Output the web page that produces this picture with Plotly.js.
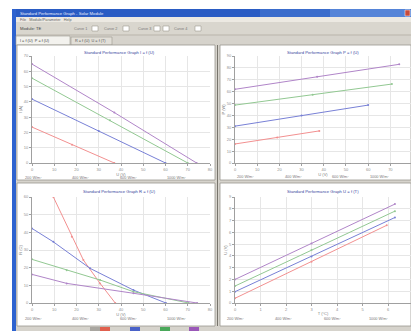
<!DOCTYPE html>
<html><head><meta charset="utf-8">
<script src="https://cdn.plot.ly/plotly-3.0.1.min.js"></script>
<style>html,body{margin:0;padding:0;background:#fff;}#c{width:411px;height:331px;}</style>
</head><body><div id="c"></div>
<script>
// ---- data ----
const seriesNames = ["200 W/m²", "400 W/m²", "600 W/m²", "1000 W/m²"];
const seriesColors = ["#f29090", "#7880d6", "#92c892", "#b085c8"];

// top-left: I = f(U)
const tlRedX = [0, 18, 37], tlRedY = [23.5, 12, 0];
const tlBlueX = [0, 30, 60], tlBlueY = [41.8, 21, 0];
const tlGreenX = [0, 35, 70], tlGreenY = [55.5, 28, 0];
const tlPurpleX = [0, 37, 74], tlPurpleY = [64.7, 33, 0];

// top-right: P = f(U)
const trRedX = [0, 19, 38], trRedY = [16, 21.5, 27];
const trBlueX = [0, 30, 60], trBlueY = [31, 40, 48.7];
const trGreenX = [0, 35, 70.7], trGreenY = [48.7, 57.5, 66.4];
const trPurpleX = [0, 37, 74], trPurpleY = [62, 72.5, 83];

// bottom-left: R = f(U)
const blRedX = [9.6, 17.9, 23.1, 30.6, 37.4], blRedY = [60, 37.5, 24.3, 11.1, 0];
const blBlueX = [0, 9.6, 26.1, 45.6, 60.2], blBlueY = [42.2, 34.6, 19.6, 7.3, 0];
const blGreenX = [0, 15.6, 30.6, 45.6, 70.4], blGreenY = [24.7, 18.6, 13, 6.4, 0];
const blPurpleX = [0, 15.6, 45.6, 74.2], blPurpleY = [16.2, 11.1, 5.5, 0];

// bottom-right: U = f(T)
const brRedX = [0, 3, 5.95], brRedY = [0.4, 3.5, 6.6];
const brBlueX = [0, 3, 6.27], brBlueY = [0.96, 3.95, 7.26];
const brGreenX = [0, 3, 6.27], brGreenY = [1.44, 4.5, 7.8];
const brPurpleX = [0, 3, 6.27], brPurpleY = [2.0, 5.05, 8.4];

const plotTitles = ["Standard Performance Graph I = f (U)", "Standard Performance Graph P = f (U)",
                    "Standard Performance Graph R = f (U)", "Standard Performance Graph U = f (T)"];
const xTitles = ["U (V)", "U (V)", "U (V)", "T (°C)"];
const yTitles = ["I (A)", "P (W)", "R (Ω)", "U (V)"];

// ---- layout helpers (pixel -> paper) ----
const W = 411, H = 331;
const PX = p => p / W, PY = p => 1 - p / H;
const shapes = [];
function rect(x0, y0, x1, y1, fill, line, lw) {
  shapes.push({type: 'rect', xref: 'paper', yref: 'paper', layer: 'below',
    x0: PX(x0), x1: PX(x1), y0: PY(y1), y1: PY(y0), fillcolor: fill,
    line: {color: line || fill, width: lw === undefined ? 0 : lw}});
}
function hline(x0, x1, y, c) {
  shapes.push({type: 'line', xref: 'paper', yref: 'paper', layer: 'below',
    x0: PX(x0), x1: PX(x1), y0: PY(y), y1: PY(y), line: {color: c, width: 1}});
}
function vline(x, y0, y1, c) {
  shapes.push({type: 'line', xref: 'paper', yref: 'paper', layer: 'below',
    x0: PX(x), x1: PX(x), y0: PY(y0), y1: PY(y1), line: {color: c, width: 1}});
}
const ann = [];
function txt(x, y, t, size, color, anchor, extra) {
  ann.push(Object.assign({xref: 'paper', yref: 'paper', x: PX(x), y: PY(y), text: t, showarrow: false,
    xanchor: anchor || 'left', yanchor: 'middle', font: {size: size, color: color, family: 'Liberation Sans'}}, extra || {}));
}

// window chrome
rect(12, 9, 411, 331, '#d6d3cc');
rect(12, 9, 411, 17, '#2a5cc4');
rect(260, 9, 330, 17, '#3a6ccc');
rect(330, 9, 411, 17, '#5584d8');
rect(12, 9, 16, 331, '#2d62cf');
rect(405, 10, 410, 16, '#c84a3a', '#ffffff', 0.5);
rect(16, 17, 411, 22, '#ece9e2');
rect(16, 22, 411, 35, '#d9d6ce');
hline(16, 411, 35, '#b9b5ab');
// tabs
rect(16, 36, 70, 45, '#f3f2ee', '#9c998f', 0.6);
rect(71, 37, 112, 45, '#e2dfd8', '#9c998f', 0.6);
// panels
rect(17, 45, 215, 180, '#ffffff', '#9a978f', 0.8);
rect(220, 45, 411, 180, '#ffffff', '#9a978f', 0.8);
rect(17, 183, 215, 326, '#ffffff', '#9a978f', 0.8);
rect(220, 183, 411, 326, '#ffffff', '#9a978f', 0.8);
vline(217.5, 45, 326, '#77746c');
// checkboxes
[95, 126, 157, 166, 198].forEach(x => rect(x - 3, 26, x + 3, 31, '#ffffff', '#8c897f', 0.5));
// bottom status bar buttons
rect(90, 327, 100, 331, '#a9a6a0');
rect(100, 327, 110, 331, '#e0604e');
rect(130, 327, 140, 331, '#4a62c8');
rect(160, 327, 170, 331, '#4aa85a');
rect(189, 327, 199, 331, '#9a58b8');

// chrome text
txt(18, 13, 'Standard Performance Graph - Solar Module', 4.2, '#e8eeff');
txt(18, 19.5, 'File   Module/Parameter   Help', 3.8, '#666666');
txt(18, 28.5, 'Module: TE', 4.2, '#444444');
txt(72, 28.5, 'Curve 1', 3.8, '#777777');
txt(102, 28.5, 'Curve 2', 3.8, '#777777');
txt(136, 28.5, 'Curve 3', 3.8, '#777777');
txt(172, 28.5, 'Curve 4', 3.8, '#777777');
txt(18, 40.5, 'I = f (U)  P = f (U)', 3.8, '#444444');
txt(73, 41, 'R = f (U)  U = f (T)', 3.8, '#555555');

// plot titles and irradiance labels
const panels = [
  {cx: 120, ty: 52, ly: 178, lx: [23, 70, 118, 165]},
  {cx: 323, ty: 52, ly: 177, lx: [235, 283, 330, 368]},
  {cx: 120, ty: 191, ly: 319, lx: [23, 70, 118, 165]},
  {cx: 323, ty: 191, ly: 319, lx: [225, 273, 322, 367]}
];
panels.forEach((p, i) => {
  txt(p.cx, p.ty, plotTitles[i], 4.2, '#3a48a0', 'center');
  p.lx.forEach((x, k) => txt(x, p.ly, seriesNames[k], 3.8, '#777777'));
});

// ---- traces ----
const traces = [];
function addSet(sets, xa, ya) {
  sets.forEach((s, k) => traces.push({x: s[0], y: s[1], xaxis: xa, yaxis: ya, type: 'scatter',
    mode: 'lines+markers', line: {color: seriesColors[k], width: 1},
    marker: {size: 2, color: seriesColors[k]}, hoverinfo: 'skip', showlegend: false}));
}
addSet([[tlRedX, tlRedY], [tlBlueX, tlBlueY], [tlGreenX, tlGreenY], [tlPurpleX, tlPurpleY]], 'x', 'y');
addSet([[trRedX, trRedY], [trBlueX, trBlueY], [trGreenX, trGreenY], [trPurpleX, trPurpleY]], 'x2', 'y2');
addSet([[blRedX, blRedY], [blBlueX, blBlueY], [blGreenX, blGreenY], [blPurpleX, blPurpleY]], 'x3', 'y3');
addSet([[brRedX, brRedY], [brBlueX, brBlueY], [brGreenX, brGreenY], [brPurpleX, brPurpleY]], 'x4', 'y4');

function ax(dom, range, dtick, title, isY, anchor) {
  return {domain: dom, range: range, dtick: dtick, anchor: anchor, showline: true, linecolor: '#a0a0a0', linewidth: 1,
    mirror: false, showgrid: true, gridcolor: '#e6e6e6', gridwidth: 1, zeroline: false,
    ticks: 'outside', ticklen: 2, tickcolor: '#a0a0a0', tickfont: {size: 4, color: '#909090', family: 'Liberation Sans'},
    title: {text: title, font: {size: 4, color: '#808080', family: 'Liberation Sans'}, standoff: 1},
    fixedrange: true};
}
const xL = [PX(32), PX(210)], xR = [PX(235), 1];
const yT = [PY(163), PY(56)], yB = [PY(303), PY(197)];

const layout = {
  width: W, height: H, margin: {l: 0, r: 0, t: 0, b: 0},
  paper_bgcolor: '#ffffff', plot_bgcolor: 'rgba(0,0,0,0)', showlegend: false,
  xaxis: ax(xL, [0, 80], 10, xTitles[0], false, 'y'),
  yaxis: ax(yT, [0, 70], 10, yTitles[0], true, 'x'),
  xaxis2: ax(xR, [0, 79.3], 10, xTitles[1], false, 'y2'),
  yaxis2: ax(yT, [0, 90], 10, yTitles[1], true, 'x2'),
  xaxis3: ax(xL, [0, 80], 10, xTitles[2], false, 'y3'),
  yaxis3: ax(yB, [0, 60], 10, yTitles[2], true, 'x3'),
  xaxis4: ax(xR, [0, 6.9], 1, xTitles[3], false, 'y4'),
  yaxis4: ax(yB, [0, 9], 1, yTitles[3], true, 'x4'),
  shapes: shapes, annotations: ann
};
Plotly.newPlot('c', traces, layout, {displayModeBar: false, staticPlot: true});
</script></body></html>
